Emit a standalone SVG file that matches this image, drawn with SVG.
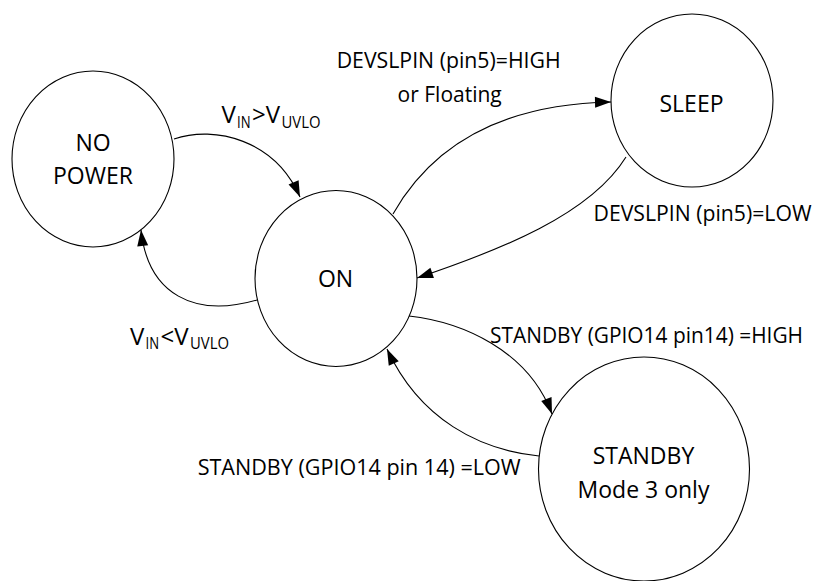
<svg xmlns="http://www.w3.org/2000/svg" width="815" height="581" viewBox="0 0 815 581">
<style>
.node ellipse{fill:#fff;stroke:#000;stroke-width:1.1}
text{font-family:"Open Sans","Noto Sans","Liberation Sans",sans-serif;fill:#000}
.nt{font-size:23px;text-anchor:middle}
.lbm{font-size:21px;text-anchor:middle}
.v{font-size:24px}
.sub{font-size:16px}
.edges path{fill:none;stroke:#000;stroke-width:1.1;marker-end:url(#ah)}
</style>
<defs>
<marker id="ah" markerUnits="userSpaceOnUse" markerWidth="17" markerHeight="12" refX="16" refY="5.5" orient="auto" overflow="visible">
<path d="M0,0 L16,5.5 L0,11 Z" fill="#000"/>
</marker>
</defs>
<rect width="815" height="581" fill="#fff"/>
<g id="node-nopower" class="node">
<ellipse cx="93" cy="159" rx="81" ry="88"/>
<text class="nt" x="93" y="151">NO</text>
<text class="nt" x="93" y="184">POWER</text>
</g>
<g id="node-on" class="node">
<ellipse cx="336" cy="278.5" rx="81" ry="88"/>
<text class="nt" x="335.5" y="286.5">ON</text>
</g>
<g id="node-sleep" class="node">
<ellipse cx="692" cy="100.5" rx="81" ry="86.5"/>
<text class="nt" x="691.5" y="111.5">SLEEP</text>
</g>
<g id="node-standby" class="node">
<ellipse cx="644" cy="469" rx="105.5" ry="112"/>
<text class="nt" x="643.5" y="464">STANDBY</text>
<text class="nt" x="643.5" y="497.5">Mode 3 only</text>
</g>
<g id="connectors" class="edges">
<path d="M174,139 C215,125 275,140 300,197"/>
<path d="M257,300 C195,318 148,295 141,230"/>
<path d="M393,214 C435,140 510,104 611,102"/>
<path d="M626,157 C590,215 500,250 417,278"/>
<path d="M409,316 C462,322 528,350 552,414"/>
<path d="M539,456 C480,450 420,420 387,349"/>
</g>
<g id="labels">
<text class="v"><tspan x="221.5" y="123.3">V</tspan><tspan class="sub" x="237" y="127.7" textLength="13.5" lengthAdjust="spacingAndGlyphs">IN</tspan><tspan x="252" y="123.3">&gt;V</tspan><tspan class="sub" x="281.5" y="127.7" textLength="39" lengthAdjust="spacingAndGlyphs">UVLO</tspan></text>
<text class="v"><tspan x="130" y="345">V</tspan><tspan class="sub" x="145.5" y="349.3" textLength="13.5" lengthAdjust="spacingAndGlyphs">IN</tspan><tspan x="160.5" y="345">&lt;V</tspan><tspan class="sub" x="190" y="349.3" textLength="39" lengthAdjust="spacingAndGlyphs">UVLO</tspan></text>
<text class="lbm" x="448.7" y="68.3" textLength="224" lengthAdjust="spacingAndGlyphs">DEVSLPIN (pin5)=HIGH</text>
<text class="lbm" x="449.7" y="101.5">or Floating</text>
<text class="lbm" x="702.5" y="220.7" textLength="218" lengthAdjust="spacingAndGlyphs">DEVSLPIN (pin5)=LOW</text>
<text class="lbm" x="646.5" y="343.3" textLength="313" lengthAdjust="spacingAndGlyphs">STANDBY (GPIO14 pin14) =HIGH</text>
<text class="lbm" x="359.2" y="475" textLength="323" lengthAdjust="spacingAndGlyphs">STANDBY (GPIO14 pin 14) =LOW</text>
</g>
</svg>
